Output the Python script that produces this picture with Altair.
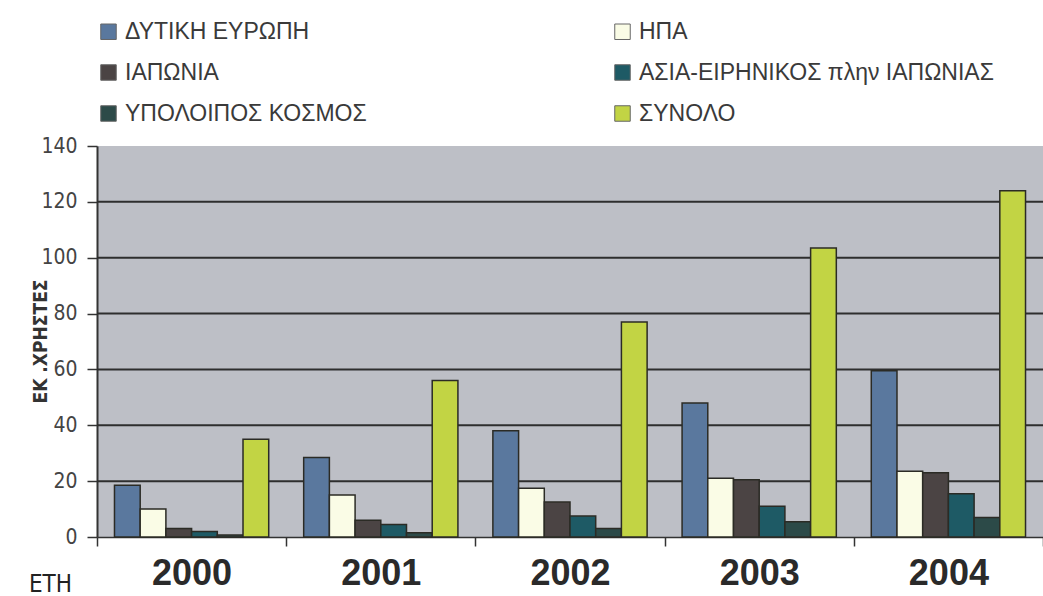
import altair as alt
import pandas as pd

years = ["2000", "2001", "2002", "2003", "2004"]
series = ["ΔΥΤΙΚΗ ΕΥΡΩΠΗ", "ΗΠΑ", "ΙΑΠΩΝΙΑ", "ΑΣΙΑ-ΕΙΡΗΝΙΚΟΣ πλην ΙΑΠΩΝΙΑΣ",
          "ΥΠΟΛΟΙΠΟΣ ΚΟΣΜΟΣ", "ΣΥΝΟΛΟ"]
west_europe = [18.5, 28.5, 38, 48, 59.5]
usa = [10, 15, 17.5, 21, 23.5]
japan = [3, 6, 12.5, 20.5, 23]
asia_pacific = [2, 4.5, 7.5, 11, 15.5]
rest_world = [0.7, 1.5, 3, 5.5, 7]
total = [35, 56, 77, 103.5, 124]
colors = ["#5a789e", "#fafce6", "#4b4444", "#1e5a65", "#2c4a48", "#c2d444"]
grid_values = [20, 40, 60, 80, 100, 120]

# legend is filled column by column: left column first, then right column
legend_order = [0, 2, 4, 1, 3, 5]
legend_domain = [series[i] for i in legend_order]
legend_range = [colors[i] for i in legend_order]

values = [west_europe, usa, japan, asia_pacific, rest_world, total]
rows = []
for s, vals in zip(series, values):
    for y, v in zip(years, vals):
        rows.append({"year": y, "series": s, "value": v})
df = pd.DataFrame(rows)
grid_df = pd.DataFrame({"g": grid_values})

FONT = "DejaVu Sans Condensed"

x_enc = alt.X("year:N", sort=years,
              scale=alt.Scale(paddingInner=0, paddingOuter=0),
              axis=alt.Axis(title="ΕΤΗ", tickBand="extent", labelAngle=0,
                            labelFontSize=36, labelFontWeight="bold",
                            labelFont="Liberation Sans", labelColor="#2a2a2a",
                            labelPadding=10, tickSize=9, tickColor="#333",
                            domainColor="#333", domainWidth=1.5, tickWidth=1.5,
                            titleFontSize=24, titleFont=FONT,
                            titleFontWeight="normal", titleColor="#222",
                            titleX=-47, titleY=54, titleAlign="center",
                            titleBaseline="alphabetic"))

bars = alt.Chart(df).mark_bar(stroke="#2b2b25", strokeWidth=1.5).encode(
    x=x_enc,
    xOffset=alt.XOffset("series:N", sort=series,
                        scale=alt.Scale(paddingInner=0, paddingOuter=0.68)),
    y=alt.Y("value:Q", scale=alt.Scale(domain=[0, 140], nice=False),
            axis=alt.Axis(title="ΕΚ .ΧΡΗΣΤΕΣ", values=[0, 20, 40, 60, 80, 100, 120, 140],
                          grid=False, tickSize=10, tickColor="#333", tickWidth=1.5,
                          domainColor="#333", domainWidth=2,
                          labelFontSize=21, labelFont=FONT, labelColor="#444",
                          labelPadding=10,
                          titleFontSize=19, titleFont=FONT, titleFontWeight="bold",
                          titleColor="#333", titleX=-57, titleY=195,
                          titleAlign="center", titleBaseline="middle")),
    color=alt.Color("series:N",
                    scale=alt.Scale(domain=legend_domain, range=legend_range),
                    legend=alt.Legend(title=None, orient="none", legendX=0, legendY=-126,
                                      columns=2, columnPadding=244, rowPadding=17,
                                      symbolType="square", symbolSize=240,
                                      symbolStrokeColor="#666", symbolStrokeWidth=1,
                                      labelFontSize=23, labelFont="Liberation Sans",
                                      labelOffset=5,
                                      labelColor="#3a3a3a", labelLimit=500)),
)

grid = alt.Chart(grid_df).mark_rule(color="#2e2e2e", strokeWidth=2).encode(
    y=alt.Y("g:Q")
)

chart = alt.layer(grid, bars).properties(
    width=946, height=391,
    padding={"left": 97, "top": 146, "right": 0, "bottom": 59},
    autosize=alt.AutoSizeParams(type="none"),
    background="white",
).configure_view(fill="#bdbfc6", stroke=None)

chart.save("out.html", embed_options={"renderer": "svg", "actions": False})
